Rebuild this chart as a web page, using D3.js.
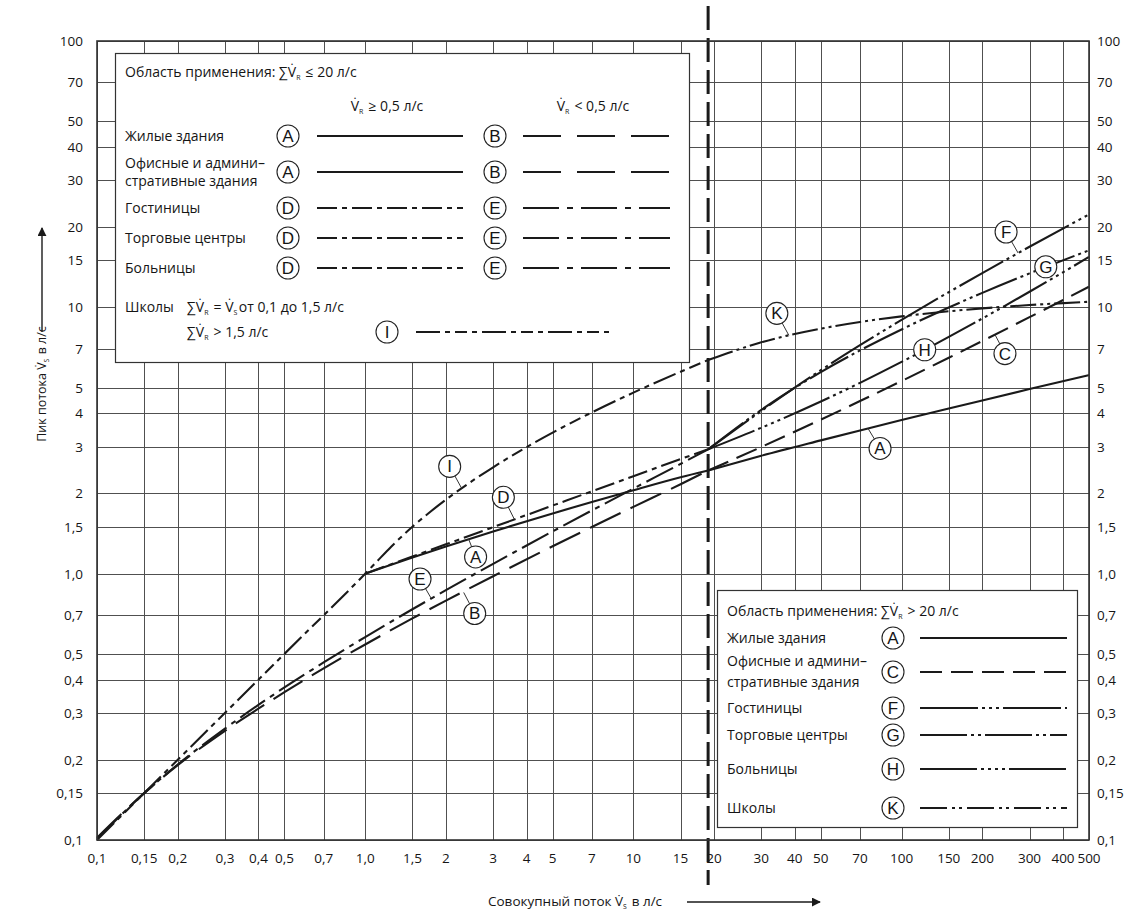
<!DOCTYPE html>
<html>
<head>
<meta charset="utf-8">
<script src="https://cdn.jsdelivr.net/npm/d3@7"></script>
<style>
  body { margin: 0; background: #fff; }
  svg text { font-family: "Open Sans", sans-serif; fill: #151515; }
</style>
</head>
<body>
<svg id="chart" width="1136" height="910"></svg>
<script>
// grid / tick values
const xTicks = [0.1, 0.15, 0.2, 0.3, 0.4, 0.5, 0.7, 1, 1.5, 2, 3, 4, 5, 7, 10, 15, 20, 30, 40, 50, 70, 100, 150, 200, 300, 400, 500];
const xTickLabels = ["0,1", "0,15", "0,2", "0,3", "0,4", "0,5", "0,7", "1,0", "1,5", "2", "3", "4", "5", "7", "10", "15", "20", "30", "40", "50", "70", "100", "150", "200", "300", "400", "500"];
const yTicks = [0.1, 0.15, 0.2, 0.3, 0.4, 0.5, 0.7, 1, 1.5, 2, 3, 4, 5, 7, 10, 15, 20, 30, 40, 50, 70, 100];
const yTickLabels = ["0,1", "0,15", "0,2", "0,3", "0,4", "0,5", "0,7", "1,0", "1,5", "2", "3", "4", "5", "7", "10", "15", "20", "30", "40", "50", "70", "100"];
const boundary = 19; // dashed line between the two ranges

// curves for sum V_R <= 20
const xsLow = [0.1, 0.15, 0.2, 0.3, 0.5, 0.7, 1, 1.5, 2, 3, 5, 7, 10, 15, 19];
const seriesB = [0.102, 0.150, 0.191, 0.257, 0.359, 0.441, 0.542, 0.679, 0.792, 0.978, 1.267, 1.497, 1.782, 2.167, 2.44];
const seriesE = [0.101, 0.150, 0.192, 0.262, 0.374, 0.464, 0.578, 0.735, 0.867, 1.089, 1.441, 1.727, 2.087, 2.583, 2.93];
const xsMid = [1, 1.5, 2, 3, 5, 7, 10, 15, 19];
const seriesA = [1.0, 1.151, 1.266, 1.441, 1.684, 1.858, 2.057, 2.302, 2.44];
const seriesD = [1.0, 1.160, 1.289, 1.495, 1.802, 2.038, 2.323, 2.694, 2.93];
const xsI = [0.1, 0.5, 1, 1.1, 1.25, 1.5, 1.75, 2, 2.5, 3, 4, 5, 7, 10, 15, 19];
const seriesI = [0.1, 0.5, 1.0, 1.105, 1.263, 1.5, 1.708, 1.896, 2.225, 2.509, 2.988, 3.385, 4.031, 4.783, 5.731, 6.34];

// curves for sum V_R > 20
const xsHigh = [19, 30, 50, 70, 100, 150, 200, 300, 500];
const seriesA2 = [2.44, 2.773, 3.166, 3.449, 3.772, 4.169, 4.472, 4.932, 5.570];
const seriesC = [2.44, 2.990, 3.788, 4.447, 5.289, 6.465, 7.472, 9.184, 11.95];
const seriesF = [2.93, 4.085, 5.807, 7.206, 8.970, 11.40, 13.44, 16.88, 22.32];
const seriesG = [2.93, 4.122, 5.715, 6.891, 8.260, 9.985, 11.33, 13.41, 16.37];
const seriesH = [2.93, 3.531, 4.429, 5.206, 6.238, 7.742, 9.079, 11.44, 15.46];
const seriesK = [6.34, 7.392, 8.318, 8.811, 9.250, 9.663, 9.909, 10.20, 10.49];

// dash patterns on the curves and in the legend samples
const dashes = {
  A: null,
  B: "34,11",
  C: "22,9",
  D: "20,5,5,5",
  E: "30,6,5,6",
  F: "50,4,3,4,3,4,3,4",
  G: "44,4,3,4,3,4",
  H: "50,4,3,4,3,4,3,4,3,4",
  I: "24,5,5,5,12,5,5,5",
  K: "26,4,3,4,3,4"
};
const legendDashes = Object.assign({}, dashes, {
  B: "38,16",
  E: "36,8,6,8",
  F: "58,4,3,4,3,4,3,4",
  G: "47,4,3,4,3,4",
  H: "57,4,3,4,3,4,3,4,3,4",
  K: "27,5,3,4,3,5"
});

const curves = [
  {style: "B", xs: xsLow, ys: seriesB},
  {style: "E", xs: xsLow, ys: seriesE},
  {style: "A", xs: xsMid, ys: seriesA},
  {style: "D", xs: xsMid, ys: seriesD},
  {style: "I", xs: xsI, ys: seriesI},
  {style: "A", xs: xsHigh, ys: seriesA2},
  {style: "C", xs: xsHigh, ys: seriesC},
  {style: "F", xs: xsHigh, ys: seriesF},
  {style: "G", xs: xsHigh, ys: seriesG},
  {style: "H", xs: xsHigh, ys: seriesH},
  {style: "K", xs: xsHigh, ys: seriesK}
];

// circled letters on the curves: anchor on curve + offset of the circle
const tags = [
  {t: "I", ax: 2.29, ay: 2.09, dx: -12, dy: -22},
  {t: "D", ax: 3.6, ay: 1.6, dx: -11, dy: -22},
  {t: "A", ax: 2.43, ay: 1.35, dx: 7, dy: 18},
  {t: "E", ax: 1.76, ay: 0.81, dx: -11, dy: -19},
  {t: "B", ax: 2.33, ay: 0.85, dx: 11, dy: 21},
  {t: "K", ax: 38, ay: 7.85, dx: -12, dy: -22},
  {t: "F", ax: 272, ay: 16.0, dx: -12, dy: -21},
  {t: "G", ax: 345, ay: 14.2, dx: 0, dy: 0},
  {t: "H", ax: 122, ay: 6.93, dx: 0, dy: 0},
  {t: "C", ax: 223, ay: 7.9, dx: 10, dy: 19},
  {t: "A", ax: 75, ay: 3.51, dx: 12, dy: 20}
];

// legend contents
const legendLowRows = [
  {label: ["Жилые здания"], left: "A", right: "B"},
  {label: ["Офисные и админи–", "стративные здания"], left: "A", right: "B"},
  {label: ["Гостиницы"], left: "D", right: "E"},
  {label: ["Торговые центры"], left: "D", right: "E"},
  {label: ["Больницы"], left: "D", right: "E"}
];
const legendHighRows = [
  {label: ["Жилые здания"], key: "A"},
  {label: ["Офисные и админи–", "стративные здания"], key: "C"},
  {label: ["Гостиницы"], key: "F"},
  {label: ["Торговые центры"], key: "G"},
  {label: ["Больницы"], key: "H"},
  {label: ["Школы"], key: "K"}
];

const svg = d3.select("#chart");
const plot = {left: 97, right: 1089, top: 41, bottom: 840};
const x = d3.scaleLog().domain([0.1, 500]).range([plot.left, plot.right]);
const y = d3.scaleLog().domain([0.1, 100]).range([plot.bottom, plot.top]);
const ink = "#1a1a1a";

svg.append("rect").attr("width", 1136).attr("height", 910).attr("fill", "#fff");

// text with {R}/{S} subscripts
function rich(g, str, size) {
  const parts = str.split(/\{(\w)\}/);
  parts.forEach((p, i) => {
    if (i % 2 === 0) {
      if (p) g.append("tspan").text(p);
    } else {
      g.append("tspan").attr("font-size", size * 0.5).attr("dy", 3).text(p);
      g.append("tspan").attr("dy", -3).text("\u200a");
    }
  });
  return g;
}

// grid
const grid = svg.append("g").attr("stroke", "#505050").attr("stroke-width", 1).attr("shape-rendering", "crispEdges");
grid.selectAll("line.v").data(xTicks).join("line").attr("class", "v")
  .attr("x1", d => Math.round(x(d)) + 0.5).attr("x2", d => Math.round(x(d)) + 0.5)
  .attr("y1", plot.top).attr("y2", plot.bottom);
grid.selectAll("line.h").data(yTicks).join("line").attr("class", "h")
  .attr("x1", plot.left).attr("x2", plot.right)
  .attr("y1", d => Math.round(y(d)) + 0.5).attr("y2", d => Math.round(y(d)) + 0.5);

// curves
const line = d3.line().x(d => x(d[0])).y(d => y(d[1])).curve(d3.curveMonotoneX);
svg.append("g").selectAll("path").data(curves).join("path")
  .attr("d", d => line(d.xs.map((v, i) => [v, d.ys[i]])))
  .attr("fill", "none").attr("stroke", ink).attr("stroke-width", 2.1)
  .attr("stroke-dasharray", d => dashes[d.style]);

function circled(g, cx, cy, t) {
  g.append("circle").attr("cx", cx).attr("cy", cy).attr("r", 11)
    .attr("fill", "#fff").attr("stroke", "#222").attr("stroke-width", 1.1);
  g.append("text").attr("x", cx).attr("y", cy + 6).attr("text-anchor", "middle")
    .attr("font-size", 17).style("font-family", "'Liberation Sans', Arial, sans-serif").text(t);
}
function sample(g, x1, x2, yy, key) {
  g.append("line").attr("x1", x1).attr("x2", x2).attr("y1", yy).attr("y2", yy)
    .attr("stroke", ink).attr("stroke-width", 2.1).attr("stroke-dasharray", legendDashes[key]);
}

// tags on curves
const tg = svg.append("g").selectAll("g").data(tags).join("g");
tg.filter(d => d.dx || d.dy).append("line")
  .attr("x1", d => x(d.ax)).attr("y1", d => y(d.ay))
  .attr("x2", d => x(d.ax) + d.dx).attr("y2", d => y(d.ay) + d.dy)
  .attr("stroke", "#333").attr("stroke-width", 1);
tg.each(function(d) { circled(d3.select(this), x(d.ax) + d.dx, y(d.ay) + d.dy, d.t); });

// legend for sum V_R <= 20
const fs = 14;
const L1 = svg.append("g");
L1.append("rect").attr("x", 115.5).attr("y", 53.5).attr("width", 574).attr("height", 309)
  .attr("fill", "#fff").attr("stroke", "#333").attr("stroke-width", 1.2);
rich(L1.append("text").attr("x", 125).attr("y", 77).attr("font-size", fs), "Область применения: ∑V\u0307{R} ≤ 20 л/с", fs);
rich(L1.append("text").attr("x", 387).attr("y", 111).attr("font-size", fs).attr("text-anchor", "middle"), "V\u0307{R} ≥ 0,5 л/с", fs);
rich(L1.append("text").attr("x", 593).attr("y", 111).attr("font-size", fs).attr("text-anchor", "middle"), "V\u0307{R} < 0,5 л/с", fs);
const rowY1 = [136, 172, 208, 238, 268];
legendLowRows.forEach((r, i) => {
  const cy = rowY1[i];
  r.label.forEach((s, j) => {
    const off = r.label.length === 1 ? 5 : (j === 0 ? -4 : 14);
    L1.append("text").attr("x", 125).attr("y", cy + off).attr("font-size", fs).text(s);
  });
  circled(L1, 288, cy, r.left);
  sample(L1, 317, 463, cy, r.left);
  circled(L1, 495, cy, r.right);
  sample(L1, 523, 670, cy, r.right);
});
L1.append("text").attr("x", 125).attr("y", 312).attr("font-size", fs).text("Школы");
rich(L1.append("text").attr("x", 187).attr("y", 312).attr("font-size", fs), "∑V\u0307{R} = V\u0307{S}от 0,1 до 1,5 л/с", fs);
rich(L1.append("text").attr("x", 187).attr("y", 337).attr("font-size", fs), "∑V\u0307{R} > 1,5 л/с", fs);
circled(L1, 387, 332, "I");
sample(L1, 416, 609, 332, "I");

// legend for sum V_R > 20
const L2 = svg.append("g");
L2.append("rect").attr("x", 717.5).attr("y", 590.5).attr("width", 360).attr("height", 237)
  .attr("fill", "#fff").attr("stroke", "#333").attr("stroke-width", 1.2);
rich(L2.append("text").attr("x", 727).attr("y", 616).attr("font-size", fs), "Область применения: ∑V\u0307{R} > 20 л/с", fs);
const rowY2 = [638, 672, 708, 735, 769, 808];
legendHighRows.forEach((r, i) => {
  const cy = rowY2[i];
  r.label.forEach((s, j) => {
    const off = r.label.length === 1 ? 5 : (j === 0 ? -6 : 15);
    L2.append("text").attr("x", 727).attr("y", cy + off).attr("font-size", fs).text(s);
  });
  circled(L2, 893, cy, r.key);
  sample(L2, 920, 1067, cy, r.key);
});

// dashed boundary line
svg.append("line").attr("x1", x(boundary)).attr("x2", x(boundary)).attr("y1", 6).attr("y2", 885)
  .attr("stroke", ink).attr("stroke-width", 3).attr("stroke-dasharray", "24,8");

// frame
svg.append("rect").attr("x", plot.left).attr("y", plot.top)
  .attr("width", plot.right - plot.left).attr("height", plot.bottom - plot.top)
  .attr("fill", "none").attr("stroke", "#333").attr("stroke-width", 1.6);

// tick labels
const tfs = 13.5;
svg.append("g").selectAll("text").data(xTicks).join("text")
  .attr("x", d => x(d)).attr("y", 863).attr("text-anchor", "middle").attr("font-size", tfs)
  .text((d, i) => xTickLabels[i]);
svg.append("g").selectAll("text").data(yTicks).join("text")
  .attr("x", 83).attr("y", d => y(d) + 5).attr("text-anchor", "end").attr("font-size", tfs)
  .text((d, i) => yTickLabels[i]);
svg.append("g").selectAll("text").data(yTicks).join("text")
  .attr("x", 1097).attr("y", d => y(d) + 5).attr("text-anchor", "start").attr("font-size", tfs)
  .text((d, i) => yTickLabels[i]);

// axis titles with arrows
svg.append("defs").append("marker").attr("id", "arr").attr("viewBox", "0 0 10 10")
  .attr("refX", 9).attr("refY", 5).attr("markerWidth", 9).attr("markerHeight", 9)
  .attr("markerUnits", "userSpaceOnUse").attr("orient", "auto")
  .append("path").attr("d", "M0,0 L10,5 L0,10 Z").attr("fill", ink);

rich(svg.append("text").attr("x", 488).attr("y", 906).attr("font-size", 13.5), "Совокупный поток V\u0307{S} в л/с", 13.5);
svg.append("line").attr("x1", 687).attr("x2", 820).attr("y1", 902).attr("y2", 902)
  .attr("stroke", ink).attr("stroke-width", 1.4).attr("marker-end", "url(#arr)");

rich(svg.append("text").attr("transform", "translate(46,384) rotate(-90)")
  .attr("text-anchor", "middle").attr("font-size", 12.5), "Пик потока V\u0307{S} в л/с", 12.5);
svg.append("line").attr("x1", 42).attr("x2", 42).attr("y1", 332).attr("y2", 228)
  .attr("stroke", ink).attr("stroke-width", 1.4).attr("marker-end", "url(#arr)");
</script>
</body>
</html>
